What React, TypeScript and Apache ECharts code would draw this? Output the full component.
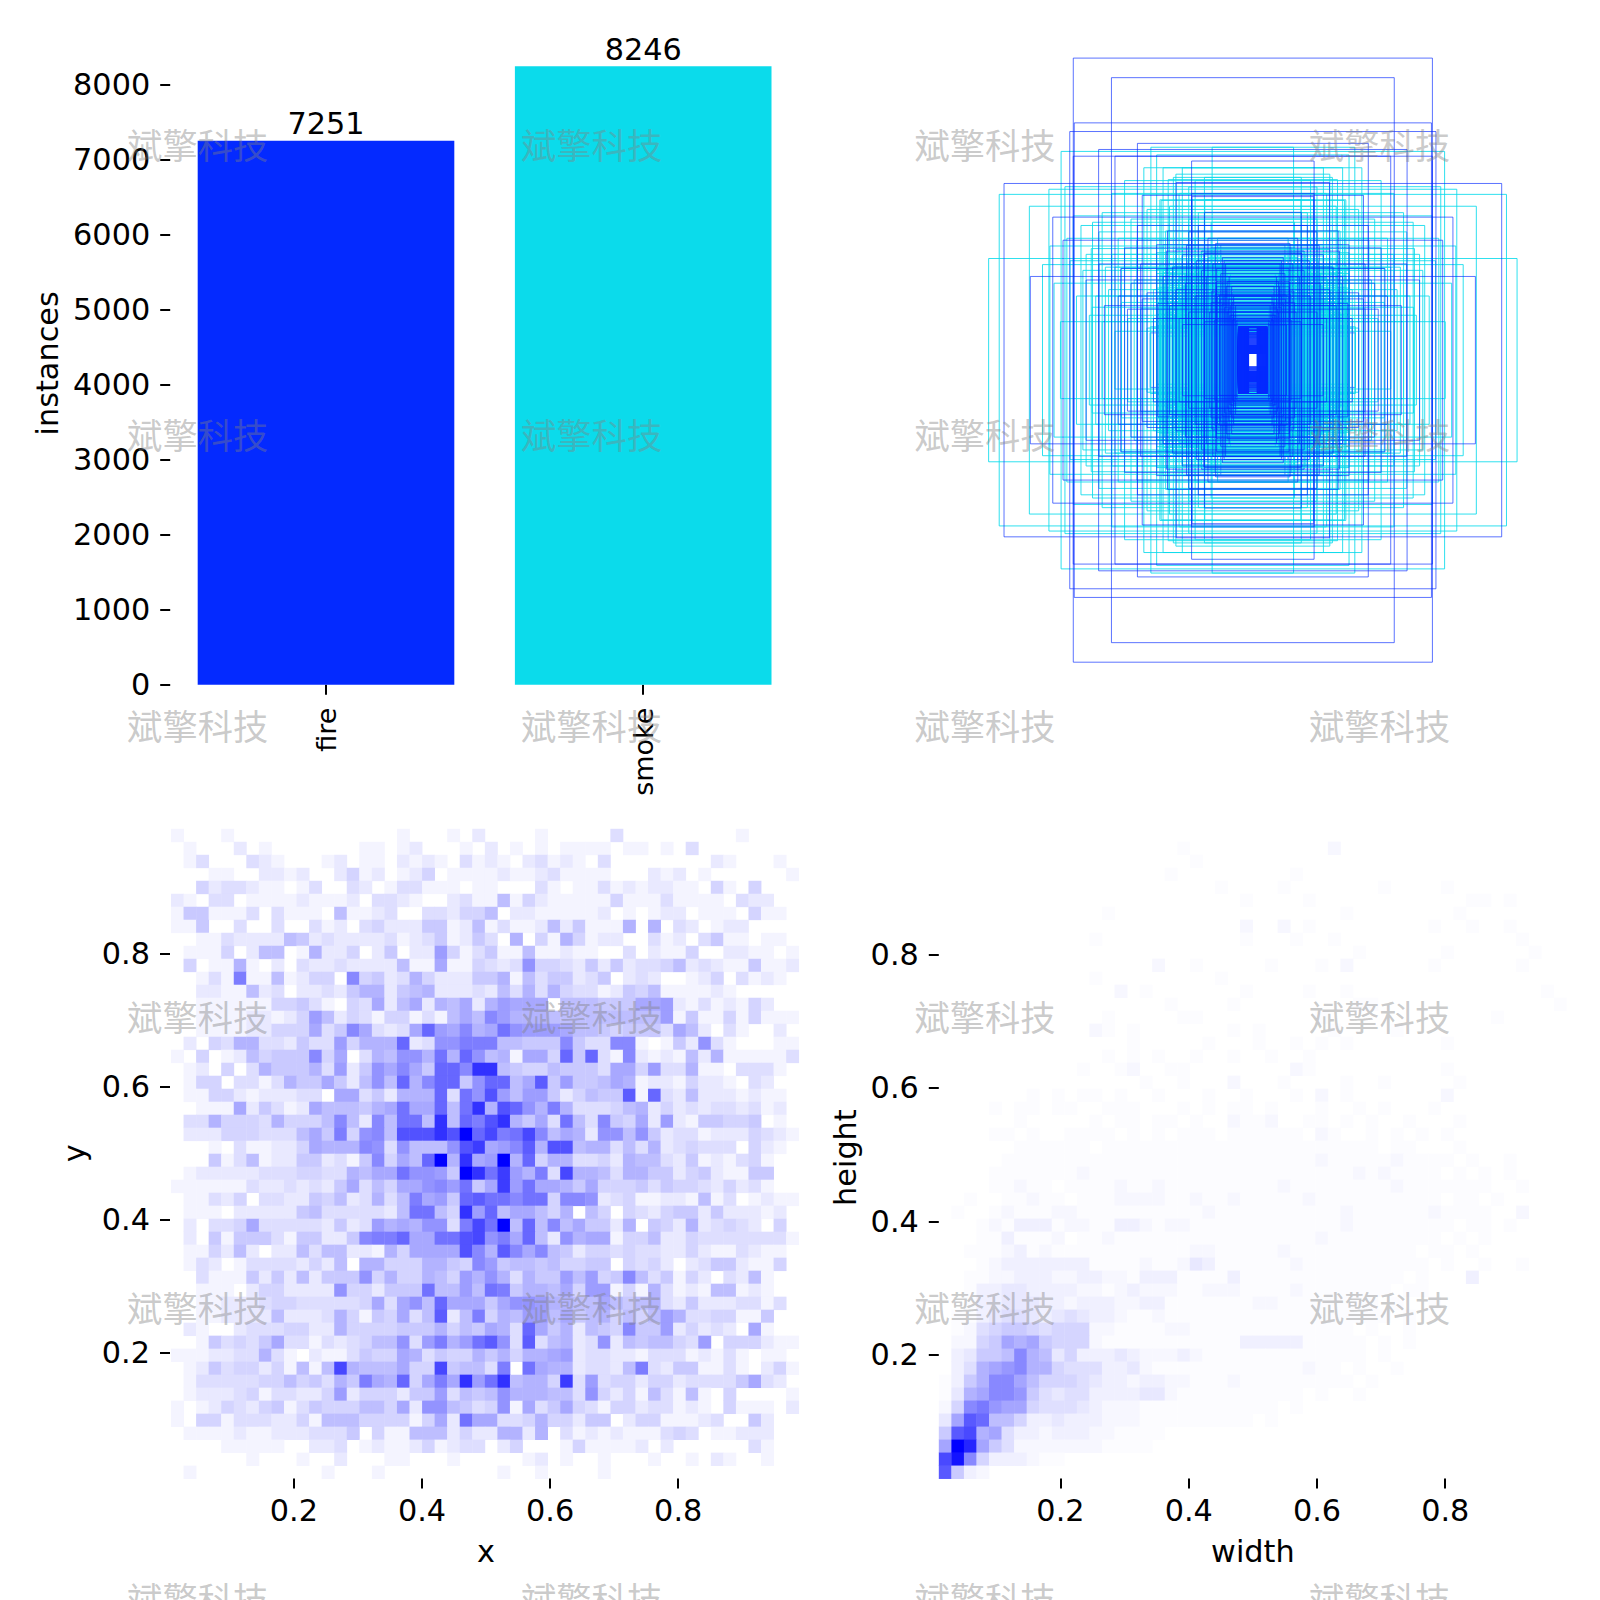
import React, { useEffect, useRef } from "react";
import * as echarts from "echarts";

const classNames = ["fire", "smoke"];
const instanceCounts = [7251, 8246];
const barColors = ["#042AFF", "#0BDBEB"];
const countTicks = [0, 1000, 2000, 3000, 4000, 5000, 6000, 7000, 8000];
const unitTicks = [0.2, 0.4, 0.6, 0.8];

// rectangle sizes (width, height) as fractions of the square panel
const fireBoxes = [
  [.560,.942],[.441,.881],[.557,.740],[.571,.713],[.360,.676],[.481,.657],[.560,.636],[.191,.621],[.430,.636],[.776,.551],
  [.239,.554],[.191,.520],[.624,.446],[.345,.514],[.151,.461],[.592,.374],[.266,.403],[.207,.358],[.694,.261],[.412,.286],
  [.463,.170],[.345,.191],[.151,.334],[.113,.286],[.391,.159],[.296,.177],[.219,.111],[.2,.4],[.19,.51],[.114,.229],
  [.104,.203],[.153,.333],[.116,.364],[.068,.14],[.083,.23],[.114,.245],[.062,.135],[.16,.28],[.176,.31],[.13,.18],
  [.145,.26],[.09,.2],[.077,.16],[.055,.12],[.05,.115],[.24,.22],[.26,.17],[.31,.13],[.33,.21],[.28,.26],
  [.25,.29],[.21,.24],[.18,.2],[.17,.42],[.125,.3],[.1,.27],[.095,.32],[.085,.3],[.14,.38],[.135,.15],
  [.12,.125],[.105,.11],[.07,.17],[.06,.15],[.075,.19],[.065,.18],[.2,.15],[.23,.13],[.15,.12],[.35,.3],
  [.38,.24],[.42,.2],[.3,.36],[.27,.34],[.22,.33],[.4,.35],[.48,.3],[.52,.25],[.36,.42],
  [.058,.13],[.064,.125],[.072,.14],[.08,.15],[.088,.165],[.096,.175],[.102,.19],[.11,.2],[.118,.205],[.128,.215],
  [.05,.125],[.054,.17],[.06,.2],[.066,.23],[.074,.26],[.08,.245],[.09,.31],
];
const fireUnderBoxes = [
  [.2,.11],[.19,.3],[.18,.24],[.17,.16],[.16,.34],[.15,.2],[.14,.27],[.13,.14],[.12,.22],[.11,.31],
  [.105,.17],[.1,.24],[.095,.15],[.09,.28],[.085,.2],[.08,.13],[.075,.25],[.07,.16],[.065,.21],[.06,.18],
  [.055,.14],[.05,.16],[.1,.36],[.2,.3],[.12,.28],[.17,.26],[.09,.24],[.21,.22],[.13,.2],[.08,.19],
  [.18,.175],[.11,.16],[.15,.14],[.07,.125],[.22,.12],[.1,.11],[.13,.095],[.26,.1],[.32,.085],
];
const coreBoxes = [
  [.045,.021],[.045,.024],[.045,.027],[.045,.03],[.045,.033],[.045,.036],[.045,.039],[.045,.042],[.045,.045],[.045,.048],
  [.045,.051],[.045,.054],[.045,.057],[.045,.06],[.045,.063],[.045,.066],[.045,.069],[.045,.072],[.045,.075],[.045,.078],
  [.045,.081],[.045,.084],[.045,.087],[.045,.093],[.045,.097],[.045,.104],
  [.0135,.104],[.015,.104],[.0166,.104],[.0182,.104],[.0198,.104],[.0214,.104],[.023,.104],[.0246,.104],[.0262,.104],[.0278,.104],
  [.0294,.104],[.031,.104],[.0326,.104],[.0342,.104],[.0358,.104],[.0374,.104],[.039,.104],[.0406,.104],[.0422,.104],[.0438,.104],
];
const smokeBoxes = [
  [.824,.317],[.791,.517],[.697,.480],[.636,.533],[.598,.651],[.127,.664],[.318,.664],[.264,.563],[.248,.570],[.151,.570],
  [.286,.498],[.633,.356],[.656,.298],[.504,.348],[.501,.165],[.586,.541],[.362,.374],[.536,.42],[.47,.46],[.58,.38],
  [.52,.33],[.44,.52],[.40,.56],[.43,.29],[.38,.44],[.34,.60],[.30,.64],[.28,.60],[.41,.286],[.32,.104],
  [.272,.403],[.24,.58],[.22,.60],[.20,.54],[.19,.50],[.18,.56],[.35,.16],[.33,.1],[.31,.22],[.3,.27],
  [.29,.18],[.28,.14],[.27,.2],[.26,.3],[.25,.24],[.24,.12],[.235,.16],[.23,.27],[.225,.19],[.22,.36],
  [.215,.23],[.21,.1],[.205,.31],[.2,.14],[.195,.26],[.19,.2],[.185,.12],[.18,.38],[.175,.17],[.17,.24],
  [.165,.33],[.16,.09],[.155,.22],[.15,.16],[.145,.29],[.14,.11],[.135,.21],[.13,.35],[.125,.15],[.12,.25],
  [.115,.13],[.11,.19],[.105,.3],[.1,.08],[.098,.17],[.095,.24],[.09,.12],[.087,.22],[.082,.15],[.08,.27],
  [.078,.1],[.075,.14],[.072,.2],[.07,.115],[.068,.18],[.065,.13],[.062,.16],[.06,.12],[.058,.14],[.056,.11],
  [.052,.125],[.05,.13],[.048,.118],[.37,.25],[.39,.13],[.41,.18],[.43,.09],[.45,.22],[.47,.12],[.49,.2],
  [.44,.33],[.42,.38],[.46,.29],[.51,.14],[.53,.28],[.55,.2],[.57,.31],[.6,.12],[.62,.24],[.48,.4],
  [.5,.43],[.56,.45],[.33,.47],[.29,.5],[.26,.48],[.23,.52],[.2,.44],[.17,.46],[.15,.5],[.13,.43],[.11,.38],
  [.300,.18],[.296,.2],[.292,.16],[.288,.22],[.284,.19],[.28,.17],[.276,.24],[.272,.15],[.268,.21],[.264,.18],
  [.26,.2],[.256,.16],[.252,.26],[.248,.19],[.244,.14],[.24,.22],[.236,.17],[.232,.25],[.228,.2],[.224,.15],
  [.22,.23],[.216,.18],[.212,.27],[.208,.16],[.204,.21],[.2,.19],[.196,.24],[.192,.13],[.188,.22],[.184,.17],
  [.18,.28],[.176,.2],[.172,.15],[.168,.25],[.164,.18],[.16,.23],[.156,.14],[.152,.3],[.148,.19],[.144,.16],
  [.14,.26],[.136,.2],[.132,.13],[.128,.24],[.124,.17],[.12,.29],[.116,.15],[.112,.22],[.108,.12],[.104,.19],
  [.1,.25],[.096,.14],[.092,.21],[.088,.17],[.084,.28],[.08,.13],[.076,.2],[.072,.16],[.068,.24],[.064,.14],
  [.06,.18],[.056,.15],[.052,.13],
  [.28,.36],[.12,.35],[.24,.345],[.16,.34],[.3,.335],[.1,.33],[.22,.325],[.14,.32],[.26,.315],[.18,.31],
  [.09,.305],[.2,.3],[.15,.295],[.25,.29],[.11,.285],[.28,.28],[.17,.275],[.07,.27],[.21,.265],[.13,.26],
  [.23,.255],[.19,.25],[.085,.245],[.27,.24],[.16,.235],[.12,.23],[.3,.225],[.2,.22],[.06,.215],[.24,.21],
  [.14,.205],[.18,.2],[.1,.195],[.26,.19],[.22,.185],[.08,.18],[.16,.175],[.29,.17],[.12,.165],[.2,.16],
  [.25,.155],[.07,.15],[.15,.145],[.23,.14],[.18,.135],[.1,.13],[.27,.125],[.13,.12],[.21,.115],[.08,.11],
  [.17,.105],[.31,.1],[.12,.095],[.24,.09],[.15,.085],[.2,.08],[.3,.075],[.1,.07],
  [.29,.2975],[.25,.2925],[.27,.2875],[.3,.2825],[.24,.2775],[.28,.2725],[.26,.2675],[.29,.2625],[.23,.2575],[.27,.2525],
  [.3,.2475],[.25,.2425],[.28,.2375],[.26,.2325],[.29,.2275],[.24,.2225],[.27,.2175],[.3,.2125],[.25,.2075],[.28,.2025],
  [.26,.1975],[.29,.1925],[.23,.1875],[.27,.1825],[.3,.1775],[.25,.1725],[.28,.1675],[.26,.1625],[.29,.1575],[.24,.1525],
  [.27,.1475],[.3,.1425],[.25,.1375],[.28,.1325],[.26,.1275],[.29,.1225],[.24,.1175],[.27,.1125],[.3,.1075],
  [.198,.17],[.194,.2],[.186,.16],[.182,.23],[.178,.18],[.174,.2],[.17,.16],[.166,.22],[.162,.19],[.158,.25],
  [.154,.17],[.15,.21],[.146,.14],[.142,.2],[.138,.17],[.134,.23],[.13,.15],[.126,.19],[.122,.16],[.118,.21],
  [.114,.13],[.11,.18],[.106,.15],[.102,.2],[.098,.13],[.094,.17],[.09,.19],[.086,.15],[.082,.22],[.078,.14],
  [.074,.18],[.07,.13],[.066,.16],[.062,.14],[.058,.17],
];

// histogram shade per bin, one character per cell, base 36, top row first
const xyRows = [
  "1000100000000000001000102 0000100000300000000010000",
  "0100020100000001101200010 2010101111011010300000000",
  "0130003210001201102121031 2102312103000000002100010",
  "0001100221200241201240111 1211231111000212010000001",
  "0042332110130032013311101 1000310113121221104104000",
  "2103301111211120332100231 1614211111411131111032200",
  "1551113031110611230033244 6022111112010122011104110",
  "1150030030031203422255126 1311262511170703201220000",
  "0011322226523222231235125 3070417412200312035110110",
  "0111402660172240250229413 5116112110030211400221101",
  "0401171020322322226118114 323a443252523346232115112",
  "00131c11612440b4523742225 5716355235023200124031210",
  "0022116230223257725672223 2637374331254611112100000",
  "0011111144531043826827682 7988806665558892131214200",
  "0011112212496243144131686 b977766666666691511414111",
  "00111122444835b83238e98b7 8da9998665455538620310020",
  "020437733253394777e23aacc c66555b533bb10152a3100011",
  "10401264555b480376aa7d7ea 671884e5e31b2121627111113",
  "0120403755573925a8b85eebj j654465553884933711033310",
  "0144033137558526a6e7bee5a ee68f59556871221422103200",
  "011442122233088352777e3da g9699524655f1e32622212110",
  "001118253128666578d88e6dj 7gea7c7333467242323323120",
  "0337444374446b62b6dd6j6ec gj7583d63b548292155445010",
  "0222444333685c4ab6gggjgke hcdhb6872aa6a523312224321",
  "000103112248777ba3a666agi 89bf7gg677363723433304210",
  "0005136122552315b486ek7j8 9k7e477334276632512134100",
  "012222233344337688daa95kj di97c3h776377552452115500",
  "11111132232325836488ab9d5 8i9d887584445354432423100",
  "0113240332254623736c895ef ddbdd4bba2341122161301211",
  "0111022222563333326dd64j9 e688647064043245525222120",
  "02033483333325239787aa3ch dk6e6b6855270542723432040",
  "020515553155225bcce88ddgh ac8e62a788144622433333331",
  "01142620226366221748888gb 7fb8b65244343322421132110",
  "013201333324260774447754b 9566564455043420235521140",
  "003111525262555a474476497 a7375596945b6351420326100",
  "0011102442222a442555d6696 dc57768499141731216612100",
  "0011222344333334838a6e888 58aa977668656732522233130",
  "001122226222374154836f26c 4769968567464697334411500",
  "0210023334422744445557465 873e8572654b5592423208100",
  "001534358331323466a39c79d fa3f36723a265664390444211",
  "1112233731021135448735447 5747789233221333121310110",
  "0125344241616h7666844h566 3c0d87723326c325511310241",
  "013333344645375c87e48c8j9 dj6774i393442442333358320",
  "0122234133224924442559365 6a777663a4241631610400001",
  "10124324513544466482aa653 4a18358431442331210411102",
  "10441333224166644441482d8 8334744255024411123005200",
  "0111121122233350411666242 2772703121211134301122200",
  "0000111110022301211241233 0240001411112020000003100",
  "0000001000100200011000100 0001201001000100102100100",
  "0100000000001000100000000 0100100001000000000000000",
];
const whRows = [
  "0000000000000000000000000 0000000000000000000000000",
  "0000000000000000000100000 0000002000000000000000000",
  "0000000000000000000010000 0000000000000000000000000",
  "0000000000000000001000000 0001000000000000000000000",
  "0000000000000000000000100 0010000000100001000000000",
  "0000000000000000000000001 0000100000000000011010000",
  "0000000000000100000000000 0000000100000000100000000",
  "0000000000000000000000002 0020100000000010010010000",
  "0000000000001000000000001 0001001000000000000001000",
  "0000000000000000000000000 0000000010000001000000100",
  "0000000000000000020010000 0100010200000010000001000",
  "0000000000001000000000100 0000000000000000000000000",
  "0000000000000020100000001 0000100100000000000000010",
  "0000000000000000001000010 0000000011000000000000001",
  "0000000000000100000110000 0000010000000000000100000",
  "0000000000002101000000010 1000001000010000000000000",
  "0000000000000001000001000 1001010100000001000000000",
  "0000000000000101010010010 0100100000000000000000000",
  "0000000000010012001100000 0002100000000001000000000",
  "0000000000000000100100020 0010000100100000100000000",
  "0000000101011010010001001 0001020100000002000000000",
  "0000101101100111000101011 0100010010100010000000000",
  "0000001000001011011010021 1200110101001000100000000",
  "0000110100111101010111011 1111021001010101000000000",
  "0000001111110111111111111 1111111111011000100000000",
  "0000011111111111111111111 1111121111121111010010000",
  "0000111111121111111111111 1111111121211110101010000",
  "0000112110111121121111111 1121111111121111111001000",
  "0010011211011122221121121 1111211111111110110100000",
  "0100121112211111111112111 1111111211111121111002000",
  "0001213331221133212211111 1111111211111111011010000",
  "0001131112011211111111111 1111121111111110101000000",
  "0011123121111111111122111 1121111111111011010000000",
  "0001233333331111211243111 1112111111111101001001000",
  "0011223332233221333111131 1111111111110100030000000",
  "0013344333322123222112221 1112111111101100000000000",
  "0013344433233322331111111 2211111111010010000000000",
  "0113455434543321121111111 1111111111101000000000000",
  "0125677656662211112211111 1111111101001000000000000",
  "02267a9a76662111111111113 3333111110101000000000000",
  "034778c984633343222321111 1111111110100000000000000",
  "0359abc996555334211111111 1111211010010000000000000",
  "1379cca866654332332211121 1111111101000000000000000",
  "149accb754553333442111111 1111010010000000000000000",
  "26cdbaa655543222111111111 1101000000000000000000000",
  "4afe886334333222111111111 0100000000000000000000000",
  "7fg9a53323332211110000000 0000000000000000000000000",
  "akia752222222111100000000 0000000000000000000000000",
  "gjc6333211000000000000000 0000000000000000000000000",
  "f732000000000000000000000 0000000000000000000000000",
];

const watermarkText = "斌擎科技";
const watermarkX = [197.7, 591.6, 985, 1379.6];
const watermarkY = [143.5, 433.2, 724, 1015, 1306, 1597];

const FONT = "'DejaVu Sans'";
const FS = 30.3;

function cells(rows: string[], x0: number, dx: number, y0: number, dy: number, power: number, gain: number) {
  const out: number[][] = [];
  rows.forEach((raw, r) => {
    const row = raw.replace(/ /g, "");
    for (let c = 0; c < row.length && c < 50; c++) {
      const d = parseInt(row[c], 36);
      if (!d) continue;
      const bottom = y0 + (rows.length - 1 - r) * dy;
      const t = d === 20 ? 1 : gain * Math.pow(d / 20, power);
      out.push([x0 + c * dx, bottom, x0 + (c + 1) * dx, bottom + dy, t]);
    }
  });
  return out;
}

const renderCell = (_: any, api: any) => {
  const a = api.coord([api.value(0), api.value(3)]);
  const b = api.coord([api.value(2), api.value(1)]);
  const v = Math.round(255 * (1 - api.value(4)));
  return {
    type: "rect",
    shape: { x: a[0], y: a[1], width: b[0] - a[0] + 0.4, height: b[1] - a[1] + 0.4 },
    style: { fill: `rgb(${v},${v},255)` },
  };
};

const renderBox = (color: string, opacity: number, lineWidth: number) => (_: any, api: any) => {
  const w = api.value(0);
  const h = api.value(1);
  const a = api.coord([0.5 - w / 2, 0.5 + h / 2]);
  const b = api.coord([0.5 + w / 2, 0.5 - h / 2]);
  return {
    type: "rect",
    shape: { x: a[0], y: a[1], width: b[0] - a[0], height: b[1] - a[1] },
    style: { fill: "none", stroke: color, lineWidth, opacity },
  };
};

const boxSeries = (data: number[][], color: string, opacity: number, lineWidth: number) => ({
  type: "custom",
  xAxisIndex: 1,
  yAxisIndex: 1,
  silent: true,
  renderItem: renderBox(color, opacity, lineWidth),
  data,
});

const tick = { show: true, length: 10, lineStyle: { color: "#000", width: 2 } };
const unitAxis = (gridIndex: number, offset: number, name: string, nameGap: number, margin: number, namePadding: number[]) => ({
  type: "value",
  gridIndex,
  min: 0,
  max: 1,
  offset,
  name,
  nameLocation: "middle",
  nameGap,
  nameTextStyle: { fontFamily: FONT, fontSize: FS, color: "#000", padding: namePadding },
  axisLine: { show: false },
  splitLine: { show: false },
  axisTick: { ...tick, customValues: unitTicks },
  axisLabel: {
    fontFamily: FONT,
    fontSize: FS,
    color: "#000",
    margin,
    customValues: unitTicks,
    formatter: (v: number) => v.toFixed(1),
  },
});

export default function App() {
  const ref = useRef<HTMLDivElement>(null);
  useEffect(() => {
    document.body.style.margin = "0";
    const chart = echarts.init(ref.current!, undefined, { renderer: "svg" });
    const watermarks: any[] = [];
    watermarkY.forEach((y) =>
      watermarkX.forEach((x) =>
        watermarks.push({
          type: "text",
          x,
          y,
          z: 100,
          silent: true,
          style: {
            text: watermarkText,
            fontFamily: "'Noto Sans CJK SC'",
            fontSize: 35.3,
            fill: "rgba(128,128,128,0.42)",
            align: "center",
            verticalAlign: "middle",
          },
        })
      )
    );
    chart.setOption({
      animation: false,
      backgroundColor: "#fff",
      grid: [
        { left: 167.4, top: 36, width: 634.4, height: 648.7 },
        { left: 932.2, top: 39.5, width: 641.3, height: 641.3 },
        { left: 165.8, top: 820.8, width: 640.5, height: 664.8 },
        { left: 932.2, top: 821.3, width: 641.3, height: 666.6 },
      ],
      xAxis: [
        {
          type: "category",
          gridIndex: 0,
          data: classNames,
          axisLine: { show: false },
          axisTick: { ...tick, alignWithLabel: true },
          axisLabel: { fontFamily: FONT, fontSize: 27, color: "#000", rotate: 90, margin: 23, padding: [6, 0, 0, 0] },
        },
        { type: "value", gridIndex: 1, min: 0, max: 1, show: false },
        unitAxis(2, -7, "x", 58, 17, [0, 0, 0, 0]),
        unitAxis(3, -9.3, "width", 58, 17, [0, 0, 0, 0]),
      ],
      yAxis: [
        {
          type: "value",
          gridIndex: 0,
          min: 0,
          max: 8648,
          offset: -2.8,
          name: "instances",
          nameLocation: "middle",
          nameGap: 108,
          nameTextStyle: { fontFamily: FONT, fontSize: FS, color: "#000", padding: [0, 6, 0, 0] },
          axisLine: { show: false },
          splitLine: { show: false },
          axisTick: { ...tick, customValues: countTicks },
          axisLabel: {
            fontFamily: FONT,
            fontSize: FS,
            color: "#000",
            margin: 20,
            customValues: countTicks,
            formatter: (v: number) => String(v),
          },
        },
        { type: "value", gridIndex: 1, min: 0, max: 1, show: false },
        unitAxis(2, -4.2, "y", 81, 20, [0, 0, 0, 0]),
        unitAxis(3, -6.6, "height", 78, 20, [0, 6, 0, 0]),
      ],
      series: [
        {
          type: "bar",
          xAxisIndex: 0,
          yAxisIndex: 0,
          barWidth: "80.9%",
          data: instanceCounts.map((value, i) => ({
            value,
            itemStyle: { color: barColors[i] },
          })),
          label: { show: true, position: "top", distance: 2, fontFamily: FONT, fontSize: FS, color: "#000" },
        },
        boxSeries(fireUnderBoxes, barColors[0], 0.6, 1),
        boxSeries(smokeBoxes, barColors[1], 0.85, 1),
        boxSeries(fireBoxes, barColors[0], 0.65, 1),
        boxSeries(coreBoxes, barColors[0], 1, 1.2),
        {
          type: "custom",
          xAxisIndex: 2,
          yAxisIndex: 2,
          silent: true,
          renderItem: renderCell,
          data: cells(xyRows, 0.0081, 0.0196, 0.0105, 0.01955, 1, 0.85),
        },
        {
          type: "custom",
          xAxisIndex: 3,
          yAxisIndex: 3,
          silent: true,
          renderItem: renderCell,
          data: cells(whRows, 0.0103, 0.01957, 0.014, 0.0195, 1.5, 1),
        },
      ],
      graphic: { elements: watermarks },
    });
    return () => chart.dispose();
  }, []);
  return <div ref={ref} style={{ position: "absolute", left: 0, top: 0, width: 1600, height: 1600, overflow: "hidden" }} />;
}
